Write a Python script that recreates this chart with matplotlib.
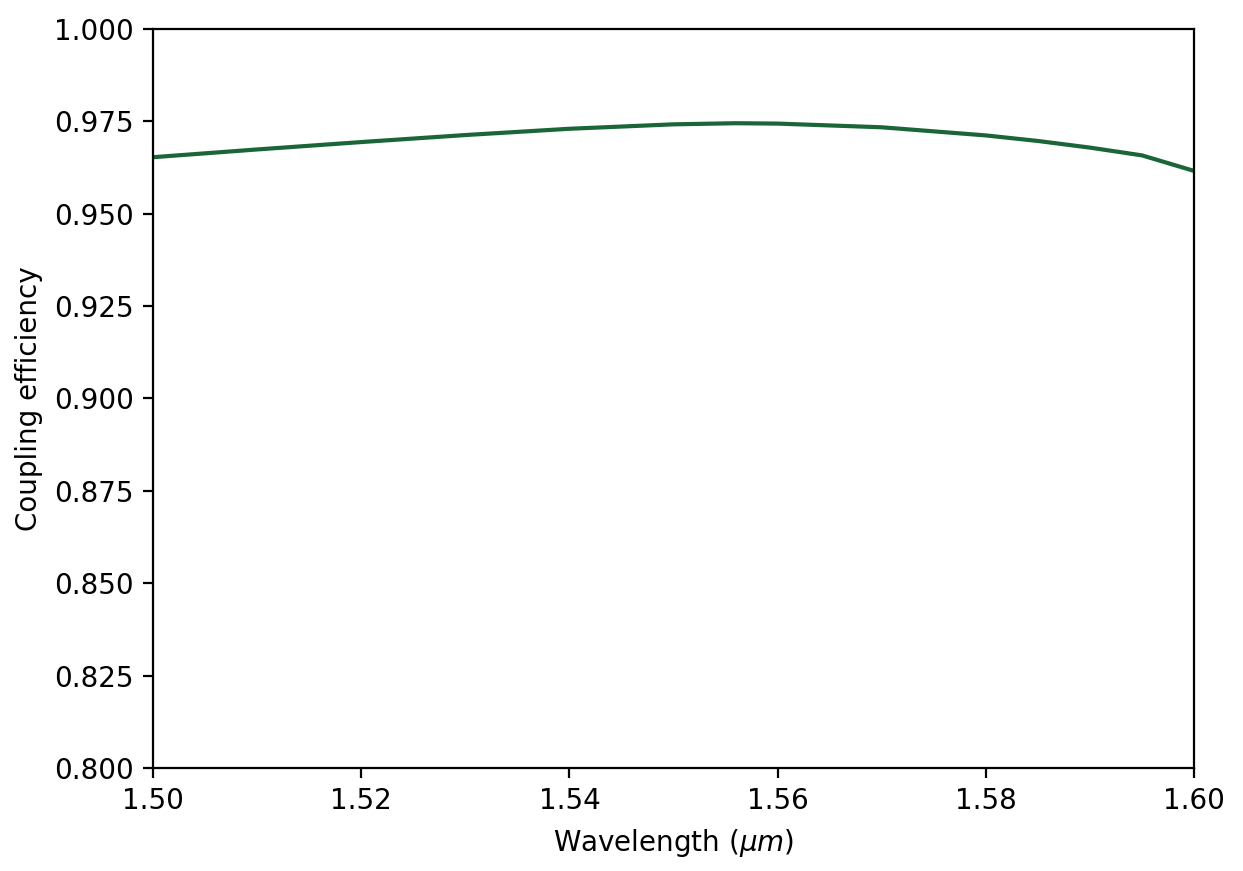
import matplotlib
matplotlib.use("Agg")
import matplotlib.pyplot as plt

wavelength = [1.50, 1.51, 1.52, 1.53, 1.54, 1.55, 1.556, 1.56, 1.57, 1.58, 1.585, 1.59, 1.595, 1.60]
efficiency = [0.9653, 0.9674, 0.9694, 0.9713, 0.9730, 0.9742, 0.9745, 0.9744, 0.9734, 0.9712, 0.9697, 0.9679, 0.9658, 0.9616]

fig = plt.figure(figsize=(6.215, 4.355), dpi=200)
ax = fig.add_axes([153/1243, 1-768/871, (1194-153)/1243, (768-29)/871])
ax.plot(wavelength, efficiency, color="#1b6638", lw=1.5)
ax.set_xlim(1.50, 1.60)
ax.set_ylim(0.800, 1.000)
ax.set_xticks([1.50, 1.52, 1.54, 1.56, 1.58, 1.60])
ax.set_yticks([0.800, 0.825, 0.850, 0.875, 0.900, 0.925, 0.950, 0.975, 1.000])
ax.set_xlabel(r"Wavelength ($\mu m$)")
ax.set_ylabel("Coupling efficiency")
fig.savefig("out.png", dpi=200)
